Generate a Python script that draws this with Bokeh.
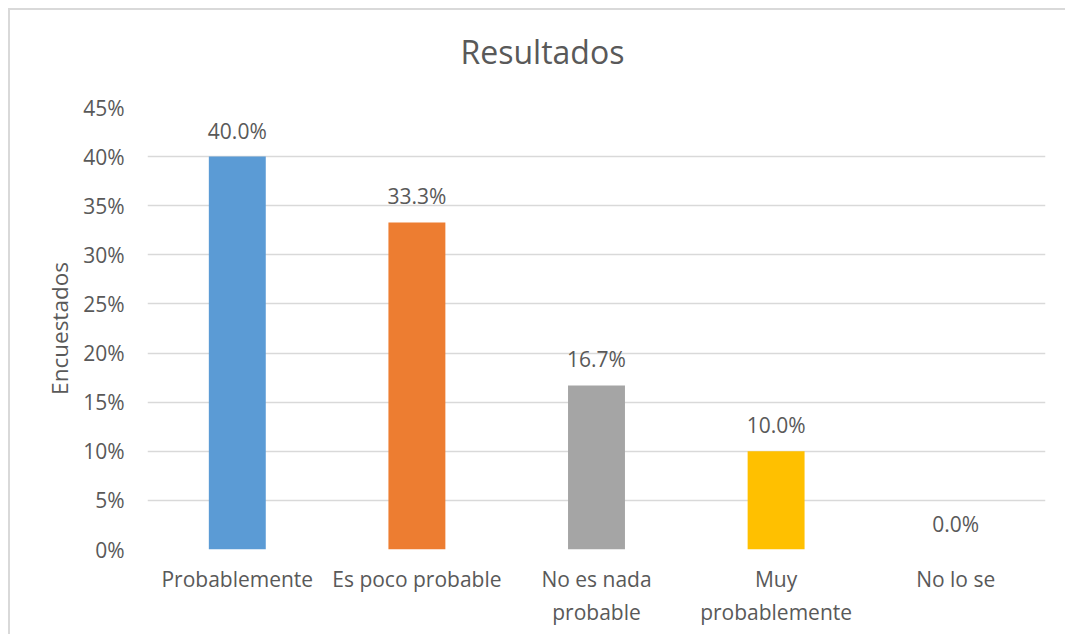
from bokeh.plotting import figure
from bokeh.models import ColumnDataSource, FactorRange, Range1d, FixedTicker, NumeralTickFormatter, Title
from bokeh.core.properties import value
from bokeh.embed import file_html
from bokeh.resources import INLINE

categories = ["Probablemente", "Es poco probable", "No es nada\nprobable", "Muy\nprobablemente", "No lo se"]
values = [0.400, 0.333, 0.167, 0.100, 0.000]
colors = ["#5B9BD5", "#ED7D31", "#A5A5A5", "#FFC000", "#4472C4"]
y_ticks = [0.0, 0.05, 0.10, 0.15, 0.20, 0.25, 0.30, 0.35, 0.40, 0.45]
title_text = "Resultados"
y_label = "Encuestados"

FONT = "Open Sans"
TXT = "#595959"

labels = [f"{v*100:.1f}%" for v in values]
src = ColumnDataSource(dict(cat=categories, val=values, color=colors, label=labels))

p = figure(width=1057, height=626, x_range=FactorRange(*categories, range_padding=0),
           y_range=Range1d(0, 0.45), output_backend="svg", toolbar_location=None,
           min_border_left=137, min_border_right=22, min_border_top=97, min_border_bottom=87)
p.styles = {"margin-left": "10px", "margin-top": "10px",
            "box-shadow": "-2px -2px 0 0 #D9D9D9"}

# main title (outer panel)
p.title.text = title_text
p.title.align = "left"
p.title.offset = 313
p.title.text_font = FONT
p.title.text_font_size = "32px"
p.title.text_font_style = "normal"
p.title.text_color = TXT
p.title.standoff = 10

# invisible spacer title next to the frame, so the real title sits higher
spacer = Title(text=" ", text_font_size="1px", standoff=27)
p.add_layout(spacer, "above")

p.vbar(x="cat", top="val", width=0.317, fill_color="color", line_color=None, source=src)
p.text(x="cat", y="val", text="label", source=src, text_align="center", text_baseline="alphabetic",
       y_offset=-26, text_font=value(FONT), text_font_size="21px", text_color=TXT)

p.outline_line_color = None
p.background_fill_color = "white"
p.border_fill_color = "white"
p.xgrid.grid_line_color = None
p.ygrid.grid_line_color = "#D9D9D9"
p.ygrid.grid_line_width = 1.5

p.yaxis.ticker = FixedTicker(ticks=y_ticks)
p.yaxis.formatter = NumeralTickFormatter(format="0%")
p.yaxis.axis_label = y_label
p.yaxis.axis_label_text_font = FONT
p.yaxis.axis_label_text_font_size = "22.5px"
p.yaxis.axis_label_text_font_style = "normal"
p.yaxis.axis_label_text_color = TXT
p.yaxis.axis_label_standoff = 5

for ax in (p.xaxis[0], p.yaxis[0]):
    ax.axis_line_color = None
    ax.major_tick_line_color = None
    ax.minor_tick_line_color = None
    ax.major_tick_out = 0
    ax.major_tick_in = 0
    ax.major_label_text_font = FONT
    ax.major_label_text_font_size = "21px"
    ax.major_label_text_color = TXT
p.yaxis.major_label_standoff = 23
p.xaxis.major_label_standoff = 15

open("out.html", "w").write(file_html(p, INLINE))
